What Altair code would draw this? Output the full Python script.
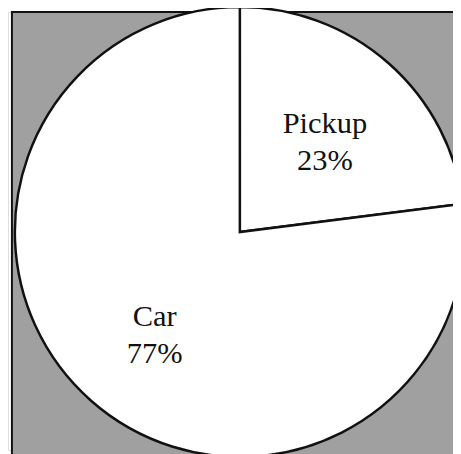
import altair as alt
import pandas as pd

categories = ["Pickup", "Car"]
shares = [23, 77]
labels = ["Pickup\n23%", "Car\n77%"]

df = pd.DataFrame({"cat": categories, "share": shares, "label": labels, "idx": [0, 1]})

W, H = 453, 446
CX, CY, R = 236, 224, 229

bg = alt.Chart(pd.DataFrame({"a": [0]})).mark_rect(
    fill="#a0a0a0", stroke="#111111", strokeWidth=2
).encode(
    x=alt.value(4), x2=alt.value(W + 10), y=alt.value(0), y2=alt.value(H + 10)
)

base = alt.Chart(df).encode(
    theta=alt.Theta("share:Q", stack=True, scale=alt.Scale(range=[0, 6.283185307179586])),
    order=alt.Order("idx:Q"),
)

pie = base.mark_arc(
    fill="white", stroke="#111111", strokeWidth=2.5, radius=R
).encode(x=alt.value(CX), y=alt.value(CY))

text = base.mark_text(
    radius=131, dy=-12, font="Liberation Serif", fontSize=31, color="#111111",
    lineBreak="\n", lineHeight=38, align="center", baseline="middle"
).encode(x=alt.value(CX), y=alt.value(CY), text="label:N")

chart = alt.layer(bg, pie, text).properties(
    width=W, height=H, autosize=alt.AutoSizeParams(type="none"), padding=0
).configure_view(stroke=None).configure(background="white")

chart.save("out.html", embed_options={"renderer": "svg", "actions": False})
